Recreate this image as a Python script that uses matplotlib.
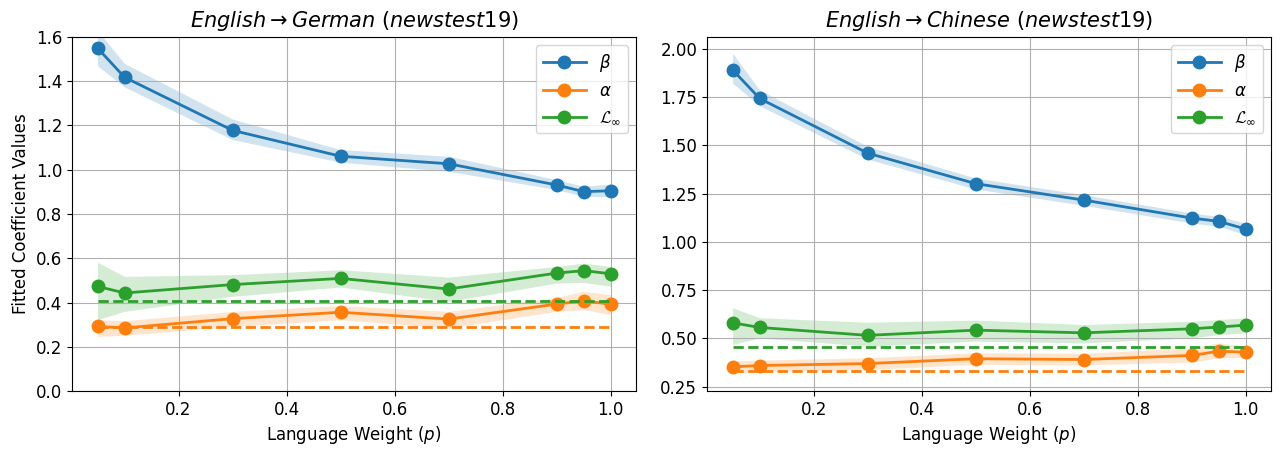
import matplotlib
matplotlib.use("Agg")
import matplotlib.pyplot as plt
import numpy as np

# sans mathtext, but keep the Computer Modern script L for the loss floor
plt.rcParams['mathtext.fontset'] = 'custom'
plt.rcParams['mathtext.cal'] = 'cmsy10'

# language weight p used in each run
weights = [0.05, 0.1, 0.3, 0.5, 0.7, 0.9, 0.95, 1.0]

# English -> German fits
de_beta = [1.550, 1.418, 1.178, 1.061, 1.027, 0.931, 0.901, 0.905]
de_beta_lo = [1.470, 1.374, 1.136, 1.034, 0.993, 0.910, 0.880, 0.877]
de_beta_hi = [1.630, 1.480, 1.229, 1.091, 1.061, 0.955, 0.925, 0.936]
de_alpha = [0.292, 0.285, 0.327, 0.356, 0.325, 0.393, 0.408, 0.392]
de_alpha_lo = [0.247, 0.252, 0.292, 0.322, 0.285, 0.360, 0.368, 0.345]
de_alpha_hi = [0.322, 0.318, 0.360, 0.386, 0.360, 0.423, 0.450, 0.435]
de_linf = [0.473, 0.443, 0.481, 0.509, 0.461, 0.533, 0.544, 0.530]
de_linf_lo = [0.322, 0.360, 0.428, 0.470, 0.405, 0.488, 0.491, 0.473]
de_linf_hi = [0.582, 0.518, 0.526, 0.548, 0.515, 0.563, 0.578, 0.563]
de_alpha_base = 0.288
de_linf_base = 0.408

# English -> Chinese fits
zh_beta = [1.890, 1.742, 1.459, 1.301, 1.216, 1.123, 1.106, 1.066]
zh_beta_lo = [1.821, 1.704, 1.428, 1.273, 1.189, 1.097, 1.080, 1.037]
zh_beta_hi = [1.976, 1.786, 1.494, 1.330, 1.244, 1.149, 1.132, 1.097]
zh_alpha = [0.353, 0.360, 0.370, 0.395, 0.391, 0.412, 0.434, 0.429]
zh_alpha_lo = [0.322, 0.328, 0.340, 0.366, 0.363, 0.378, 0.400, 0.400]
zh_alpha_hi = [0.383, 0.388, 0.400, 0.426, 0.423, 0.452, 0.477, 0.460]
zh_linf = [0.581, 0.557, 0.516, 0.543, 0.529, 0.550, 0.559, 0.569]
zh_linf_lo = [0.469, 0.503, 0.460, 0.486, 0.477, 0.503, 0.520, 0.529]
zh_linf_hi = [0.659, 0.607, 0.584, 0.595, 0.572, 0.589, 0.598, 0.607]
zh_alpha_base = 0.332
zh_linf_base = 0.457

panels = [
    dict(title=r'$English \rightarrow German$ ($newstest19$)',
         beta=(de_beta, de_beta_lo, de_beta_hi),
         alpha=(de_alpha, de_alpha_lo, de_alpha_hi),
         linf=(de_linf, de_linf_lo, de_linf_hi),
         base=(de_alpha_base, de_linf_base),
         ylim=(0.0, 1.6)),
    dict(title=r'$English \rightarrow Chinese$ ($newstest19$)',
         beta=(zh_beta, zh_beta_lo, zh_beta_hi),
         alpha=(zh_alpha, zh_alpha_lo, zh_alpha_hi),
         linf=(zh_linf, zh_linf_lo, zh_linf_hi),
         base=(zh_alpha_base, zh_linf_base),
         ylim=(0.228, 2.06)),
]

fig, axes = plt.subplots(1, 2, figsize=(12.83, 4.51), dpi=100)
fig.subplots_adjust(left=0.056, right=0.991, top=0.918, bottom=0.133, wspace=0.125)

x = np.array(weights)
for ax, p in zip(axes, panels):
    for key, label, col in [('beta', r'$\beta$', 'C0'),
                            ('alpha', r'$\alpha$', 'C1'),
                            ('linf', r'$\mathcal{L}_\infty$', 'C2')]:
        mid, lo, hi = p[key]
        ax.plot(x, mid, 'o-', color=col, lw=2, ms=9, label=label)
        ax.fill_between(x, lo, hi, color=col, alpha=0.2, lw=0)
    a_base, l_base = p['base']
    ax.plot([x[0], x[-1]], [a_base, a_base], '--', color='C1', lw=2)
    ax.plot([x[0], x[-1]], [l_base, l_base], '--', color='C2', lw=2)
    ax.set_ylim(*p['ylim'])
    ax.set_xticks([0.2, 0.4, 0.6, 0.8, 1.0])
    ax.grid(True)
    ax.tick_params(labelsize=12)
    ax.set_xlabel(r'Language Weight ($p$)', fontsize=12)
    ax.set_title(p['title'], fontsize=15, pad=7)
    ax.legend(loc='upper right', fontsize=12, handlelength=2.6)

axes[0].set_ylabel('Fitted Coefficient Values', fontsize=12)
axes[1].set_yticks([0.25, 0.5, 0.75, 1.0, 1.25, 1.5, 1.75, 2.0])

fig.savefig('out.png', dpi=100)
